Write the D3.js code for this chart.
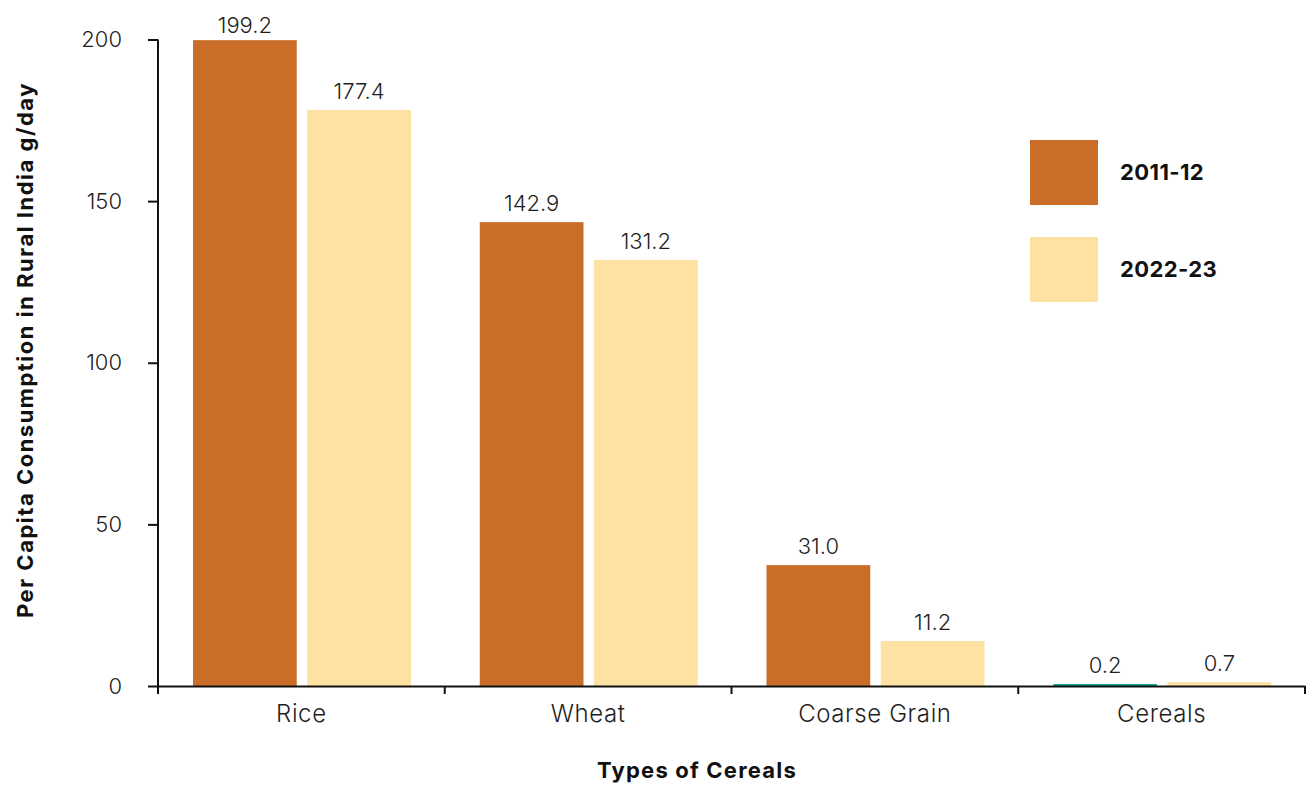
<!DOCTYPE html>
<html>
<head>
<meta charset="utf-8">
<script src="https://cdn.jsdelivr.net/npm/d3@7"></script>
<style>
  html, body { margin: 0; padding: 0; background: #fff; }
  svg { display: block; font-family: Inter, "Open Sans", sans-serif; }
</style>
</head>
<body>
<svg id="chart" width="1312" height="785"></svg>
<script>
// ---- data ----
const categories = ["Rice", "Wheat", "Coarse Grain", "Cereals"];
const series = ["2011-12", "2022-23"];
const values2011 = [199.8, 143.5, 37.4, 0.6];
const values2022 = [178.2, 131.8, 13.9, 1.2];
const labels2011 = ["199.2", "142.9", "31.0", "0.2"];
const labels2022 = ["177.4", "131.2", "11.2", "0.7"];
const yTicks = [0, 50, 100, 150, 200];

// ---- styles ----
const seriesColors = ["#C96D28", "#FDE2A3"];
const highlightColor = "#13A08F"; // Cereals 2011-12 bar colour
const textColor = "#1f1f1f";

const svg = d3.select("#chart");
const mLeft = 158, mRight = 1305, mTop = 39.5, mBottom = 686;

const x = d3.scaleBand().domain(categories).range([mLeft, mRight]).padding(0);
const x1 = d3.scaleBand().domain(series).range([35, 253]).paddingInner(0.092);
const y = d3.scaleLinear().domain([0, 200]).range([mBottom, mTop]);

const rows = categories.map((c, i) => ({
  cat: c,
  bars: [
    { s: series[0], v: values2011[i], label: labels2011[i], color: c === "Cereals" ? highlightColor : seriesColors[0] },
    { s: series[1], v: values2022[i], label: labels2022[i], color: seriesColors[1] }
  ]
}));

const g = svg.selectAll("g.cat").data(rows).join("g")
  .attr("class", "cat")
  .attr("transform", d => `translate(${x(d.cat)},0)`);

g.selectAll("rect").data(d => d.bars).join("rect")
  .attr("x", d => x1(d.s))
  .attr("width", x1.bandwidth())
  .attr("y", d => y(d.v))
  .attr("height", d => y(0) - y(d.v))
  .attr("fill", d => d.color);

g.selectAll("text.val").data(d => d.bars).join("text")
  .attr("class", "val")
  .attr("x", d => x1(d.s) + x1.bandwidth() / 2)
  .attr("y", d => Math.max(y(d.v) - 11, 33))
  .attr("text-anchor", "middle")
  .attr("font-size", 22)
  .attr("font-weight", 300)
  .attr("fill", textColor)
  .text(d => d.label);

// y axis
const yAxis = svg.append("g")
  .attr("transform", `translate(${mLeft},0)`)
  .call(d3.axisLeft(y).tickValues(yTicks).tickSize(10).tickSizeOuter(0).tickPadding(26));
yAxis.select(".domain").attr("stroke", "#111").attr("stroke-width", 2)
  .attr("d", `M0,${mTop}V${mBottom + 8}`);
yAxis.selectAll(".tick line").attr("stroke", "#111").attr("stroke-width", 2);
yAxis.selectAll(".tick text").attr("font-size", 22).attr("font-weight", 300)
  .attr("fill", textColor).attr("font-family", "Inter, sans-serif");

// x axis
const xAxis = svg.append("g")
  .attr("transform", `translate(0,${mBottom})`)
  .call(d3.axisBottom(x).tickSize(0).tickSizeOuter(0).tickPadding(19));
xAxis.select(".domain").attr("stroke", "#111").attr("stroke-width", 2);
xAxis.selectAll(".tick text").attr("font-size", 24).attr("font-weight", 300)
  .attr("letter-spacing", 0.6)
  .attr("fill", textColor).attr("font-family", "Inter, sans-serif");
const bounds = categories.map(c => x(c)).concat([x.range()[1]]);
xAxis.selectAll("line.bound").data(bounds).join("line")
  .attr("class", "bound")
  .attr("x1", d => d).attr("x2", d => d)
  .attr("y1", 0).attr("y2", 8)
  .attr("stroke", "#111").attr("stroke-width", 2);

// axis titles
svg.append("text")
  .attr("transform", "translate(33,350) rotate(-90)")
  .attr("text-anchor", "middle")
  .attr("font-size", 22).attr("font-weight", 700).attr("fill", "#111")
  .attr("letter-spacing", 1.5)
  .text("Per Capita Consumption in Rural India g/day");

svg.append("text")
  .attr("x", 697).attr("y", 778)
  .attr("text-anchor", "middle")
  .attr("font-size", 22).attr("font-weight", 700).attr("fill", "#111")
  .attr("letter-spacing", 1.2)
  .text("Types of Cereals");

// legend
const legend = svg.append("g").attr("transform", "translate(1030,140)");
const li = legend.selectAll("g").data(series).join("g")
  .attr("transform", (d, i) => `translate(0,${i * 97})`);
li.append("rect").attr("width", 68).attr("height", 65)
  .attr("fill", (d, i) => seriesColors[i]);
li.append("text").attr("x", 90).attr("y", 40)
  .attr("font-size", 22).attr("font-weight", 700).attr("fill", "#111")
  .attr("letter-spacing", 0.4)
  .text(d => d);
</script>
</body>
</html>
